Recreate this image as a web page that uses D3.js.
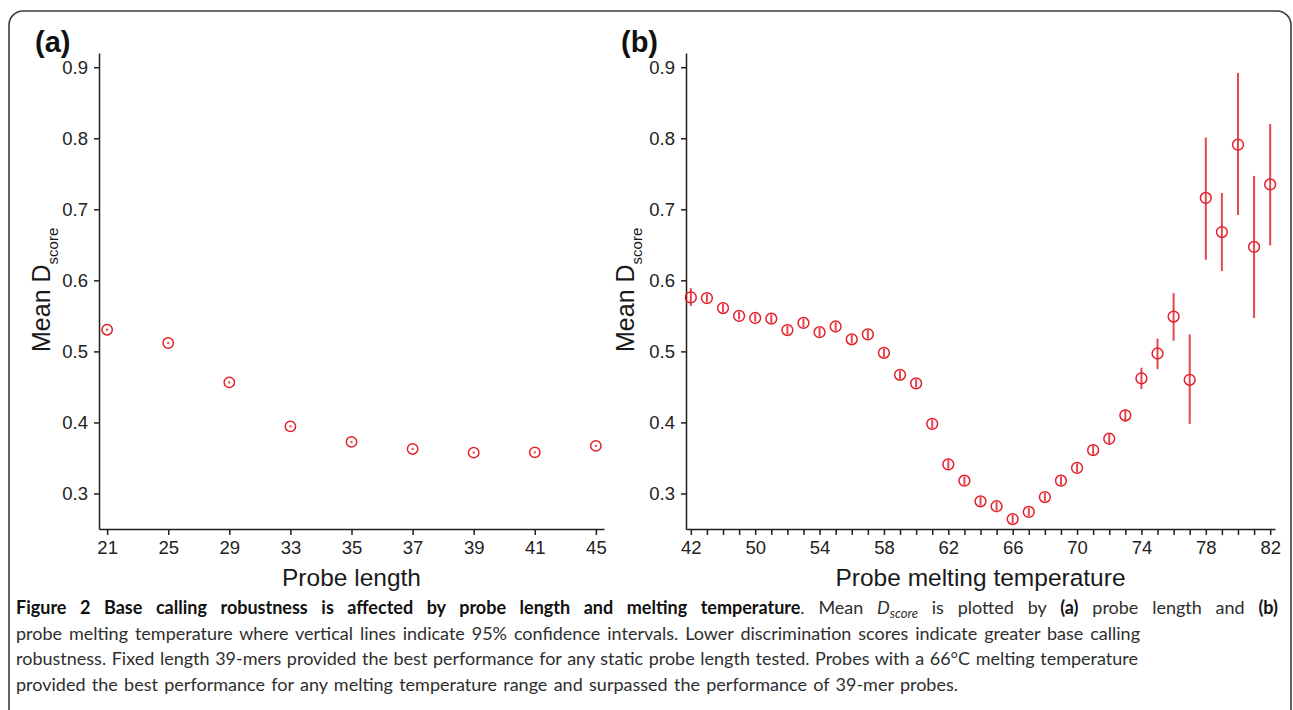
<!DOCTYPE html>
<html>
<head>
<meta charset="utf-8">
<script src="https://cdn.jsdelivr.net/npm/d3@7"></script>
<style>
  body { margin: 0; background: #fff; }
</style>
</head>
<body>
<div id="chart"></div>
<script>
// (a) probe length
var lengthCats = ["21", "25", "29", "33", "35", "37", "39", "41", "45"];
var lengthMean = [0.5305, 0.5118, 0.4564, 0.3945, 0.3726, 0.3627, 0.3575, 0.3579, 0.3670];
var lengthLo   = [0.5290, 0.5103, 0.4549, 0.3930, 0.3711, 0.3612, 0.3560, 0.3564, 0.3655];
var lengthHi   = [0.5320, 0.5133, 0.4579, 0.3960, 0.3741, 0.3642, 0.3590, 0.3594, 0.3685];

// (b) probe melting temperature
var tempCats = ["42", "47", "48", "49", "50", "51", "52", "53", "54", "55", "56", "57", "58", "59",
                "60", "61", "62", "63", "64", "65", "66", "67", "68", "69", "70", "71", "72", "73",
                "74", "75", "76", "77", "78", "79", "80", "81", "82"];
var tempLabels = ["42", "50", "54", "58", "62", "66", "70", "74", "78", "82"];
var tempMean = [0.576, 0.575, 0.561, 0.550, 0.547, 0.546, 0.530, 0.540, 0.527, 0.535, 0.517, 0.524,
                0.498, 0.467, 0.455, 0.398, 0.341, 0.318, 0.289, 0.282, 0.264, 0.274, 0.295, 0.318,
                0.336, 0.361, 0.377, 0.410, 0.462, 0.497, 0.549, 0.460, 0.716, 0.668, 0.791, 0.647, 0.735];
var tempLo   = [0.564, 0.569, 0.555, 0.545, 0.542, 0.540, 0.524, 0.534, 0.521, 0.529, 0.511, 0.518,
                0.492, 0.461, 0.449, 0.392, 0.335, 0.312, 0.283, 0.276, 0.258, 0.268, 0.289, 0.312,
                0.330, 0.354, 0.370, 0.401, 0.447, 0.475, 0.515, 0.398, 0.629, 0.613, 0.692, 0.547, 0.649];
var tempHi   = [0.589, 0.581, 0.567, 0.556, 0.553, 0.552, 0.536, 0.546, 0.533, 0.541, 0.523, 0.530,
                0.504, 0.473, 0.461, 0.404, 0.347, 0.324, 0.295, 0.288, 0.270, 0.280, 0.301, 0.324,
                0.342, 0.368, 0.384, 0.418, 0.477, 0.518, 0.582, 0.524, 0.801, 0.723, 0.892, 0.747, 0.820];

var yTicks = [0.3, 0.4, 0.5, 0.6, 0.7, 0.8, 0.9];

var captionLines = [
  [{t: "Figure 2 Base calling robustness is affected by probe length and melting temperature", b: 1},
   {t: ". Mean "}, {t: "D", i: 1}, {t: "score", i: 1, sub: 1}, {t: " is plotted by "},
   {t: "(a)", b: 1}, {t: " probe length and "}, {t: "(b)", b: 1}],
  [{t: "probe melting temperature where vertical lines indicate 95% confidence intervals. Lower discrimination scores indicate greater base calling"}],
  [{t: "robustness. Fixed length 39-mers provided the best performance for any static probe length tested. Probes with a 66\u00B0C melting temperature"}],
  [{t: "provided the best performance for any melting temperature range and surpassed the performance of 39-mer probes."}]
];
var captionWidths = [1262, 1124, 1122, 942];

var axisColor = "#231f20",
    pointColor = "#e3212b",
    barColor = "#e8464f",
    chartFont = "'Liberation Sans', Arial, sans-serif";

var svg = d3.select("#chart").append("svg")
  .attr("width", 1293)
  .attr("height", 710)
  .style("display", "block");

// frame
svg.append("rect")
  .attr("x", 9)
  .attr("y", 11)
  .attr("width", 1282)
  .attr("height", 780)
  .attr("rx", 14)
  .attr("fill", "none")
  .attr("stroke", "#3c3c3c")
  .attr("stroke-width", 1.6);

var y = d3.scaleLinear().domain([0.25, 0.92]).range([529, 53]);

function drawPanel(cats, mean, lo, hi, x, axisX, tag, xTitle, titleX, labelX, tickFmt, r) {
  var g = svg.append("g");

  var yAxis = g.append("g")
    .attr("transform", "translate(" + axisX + ",0)")
    .call(d3.axisLeft(y).tickValues(yTicks).tickFormat(d3.format(".1f")).tickSize(5).tickSizeOuter(0).tickPadding(6));

  var xAxis = g.append("g")
    .attr("transform", "translate(0,529)")
    .call(d3.axisBottom(x).tickFormat(tickFmt).tickSize(6).tickSizeOuter(0).tickPadding(6));

  [yAxis, xAxis].forEach(function (a) {
    a.attr("color", axisColor)
      .attr("font-family", chartFont)
      .attr("font-size", 18.5);
    a.selectAll("path, line").attr("stroke-width", 1.5);
    a.selectAll("text").attr("fill", "#222");
  });

  g.selectAll("line.ci")
    .data(mean)
    .enter()
      .append("line")
      .attr("class", "ci")
      .attr("x1", function (d, i) { return x(cats[i]); })
      .attr("x2", function (d, i) { return x(cats[i]); })
      .attr("y1", function (d, i) { return y(lo[i]); })
      .attr("y2", function (d, i) { return y(hi[i]); })
      .attr("stroke", barColor)
      .attr("stroke-width", 2);

  g.selectAll("circle.pt")
    .data(mean)
    .enter()
      .append("circle")
      .attr("class", "pt")
      .attr("cx", function (d, i) { return x(cats[i]); })
      .attr("cy", function (d) { return y(d); })
      .attr("r", r)
      .attr("fill", "none")
      .attr("stroke", pointColor)
      .attr("stroke-width", 1.5);

  g.append("text")
    .text(tag)
    .attr("x", labelX)
    .attr("y", 52)
    .attr("font-family", chartFont)
    .attr("font-weight", "bold")
    .attr("font-size", 29)
    .attr("fill", "#111");

  g.append("text")
    .text(xTitle)
    .attr("x", (x.range()[0] + x.range()[1]) / 2)
    .attr("y", 586)
    .attr("text-anchor", "middle")
    .attr("font-family", chartFont)
    .attr("font-size", 24.5)
    .attr("fill", "#1a1a1a");

  var yt = g.append("text")
    .attr("transform", "translate(" + titleX + ",352) rotate(-90)")
    .attr("font-family", chartFont)
    .attr("font-size", 25)
    .attr("fill", "#1a1a1a");
  yt.append("tspan").text("Mean D");
  yt.append("tspan").text("score").attr("font-size", 15).attr("dy", 8);
}

var xLen = d3.scalePoint().domain(lengthCats).range([99, 604]).padding(0.133);
drawPanel(lengthCats, lengthMean, lengthLo, lengthHi, xLen, 99, "(a)", "Probe length", 50, 35,
  function (d) { return d; }, 5.2);

var xTemp = d3.scalePoint().domain(tempCats).range([686, 1275]).padding(0.3);
drawPanel(tempCats, tempMean, tempLo, tempHi, xTemp, 686, "(b)", "Probe melting temperature", 634, 621,
  function (d) { return tempLabels.indexOf(d) >= 0 ? d : ""; }, 5.4);

// caption
var cap = svg.append("g")
  .attr("font-family", "Lato, 'Open Sans', sans-serif")
  .attr("font-size", 18)
  .attr("fill", "#2e2e2e");

captionLines.forEach(function (parts, li) {
  var t = cap.append("text")
    .attr("x", 16)
    .attr("y", 614 + li * 25.5)
    .attr("xml:space", "preserve");
  parts.forEach(function (p, k) {
    var s = t.append("tspan").text(p.t);
    if (p.b) s.attr("font-weight", "bold").attr("fill", "#111");
    if (p.i) s.attr("font-style", "italic");
    if (p.sub) s.attr("font-size", 13).attr("dy", 4);
    if (k > 0 && parts[k - 1].sub) s.attr("dy", -4);
  });
  var natural = t.node().getComputedTextLength();
  var spaces = parts.map(function (p) { return p.t; }).join("").split(" ").length - 1;
  t.attr("word-spacing", (captionWidths[li] - natural) / spaces);
});
</script>
</body>
</html>
